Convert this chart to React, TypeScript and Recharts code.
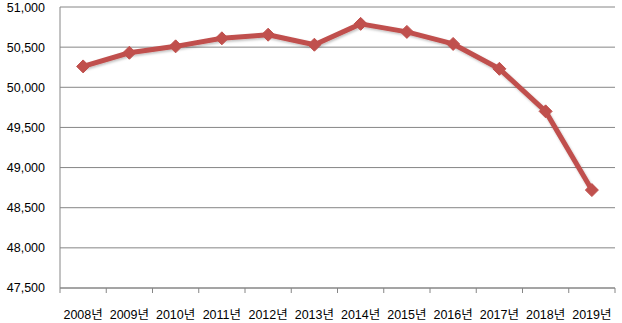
import { ComposedChart, Line, XAxis, YAxis, CartesianGrid } from 'recharts';

const years = ['2008년', '2009년', '2010년', '2011년', '2012년', '2013년', '2014년', '2015년', '2016년', '2017년', '2018년', '2019년'];
const values = [50260, 50430, 50510, 50610, 50655, 50530, 50790, 50690, 50540, 50230, 49700, 48720];
const yTicks = [47500, 48000, 48500, 49000, 49500, 50000, 50500, 51000];

const data = years.map((year, i) => ({ year, value: values[i] }));

const FONT = '"Liberation Sans", Arial, "Noto Sans CJK KR", sans-serif';
const RED = '#C0504D';
const GRID = '#868686';
const TICK_SIZE = 5;
const TICK_MARGIN = 17;

// diamond marker like the Excel one
function Diamond(props: any) {
    const { cx, cy } = props;
    if (cx == null || cy == null) return null;
    const r = 6.5;
    return (
        <polygon
            key={`d-${props.index}`}
            points={`${cx},${cy - r} ${cx + r},${cy} ${cx},${cy + r} ${cx - r},${cy}`}
            fill={RED}
            stroke={RED}
            strokeWidth={1}
        />
    );
}

// label plus tick marks between categories (Excel style)
function YearTick(props: any) {
    const { x, y, payload, index, visibleTicksCount } = props;
    const half = payload && payload.offset ? payload.offset : 23;
    const axisY = y - TICK_SIZE - TICK_MARGIN;
    const isLast = index === (visibleTicksCount ?? years.length) - 1;
    return (
        <g>
            <line x1={x - half} x2={x - half} y1={axisY} y2={axisY + TICK_SIZE} stroke={GRID} />
            {isLast && <line x1={x + half} x2={x + half} y1={axisY} y2={axisY + TICK_SIZE} stroke={GRID} />}
            <text x={x} y={y} dy="0.71em" textAnchor="middle" fill="#000" fontSize={12.5} fontFamily={FONT}>
                {payload.value}
            </text>
        </g>
    );
}

export default function App() {
    return (
        <div style={{ position: 'absolute', left: 0, top: 0, width: 622, height: 323, background: '#fff' }}>
            <ComposedChart
                width={622}
                height={323}
                data={data}
                margin={{ top: 7, right: 7, bottom: 0, left: 0 }}
                style={{ overflow: 'visible' }}
            >
                <defs>
                    <filter id="shadow" x="-10%" y="-10%" width="130%" height="130%">
                        <feDropShadow dx="1" dy="1.5" stdDeviation="1" floodColor="#000" floodOpacity="0.25" />
                    </filter>
                </defs>
                <CartesianGrid horizontal vertical={false} stroke={GRID} strokeWidth={1} />
                <XAxis
                    dataKey="year"
                    scale="band"
                    tickLine={false}
                    axisLine={{ stroke: GRID }}
                    tickSize={TICK_SIZE}
                    tickMargin={TICK_MARGIN}
                    height={35}
                    interval={0}
                    tick={<YearTick />}
                />
                <YAxis
                    domain={[47500, 51000]}
                    ticks={yTicks}
                    width={60}
                    tickLine={false}
                    axisLine={{ stroke: GRID }}
                    tickSize={0}
                    tickMargin={15}
                    tickFormatter={(v: number) => v.toLocaleString('en-US')}
                    tick={{ fill: '#000', fontSize: 12.5, fontFamily: FONT }}
                />
                <Line
                    dataKey="value"
                    stroke={RED}
                    strokeWidth={5}
                    strokeLinejoin="round"
                    dot={<Diamond />}
                    activeDot={false}
                    isAnimationActive={false}
                    style={{ filter: 'url(#shadow)' }}
                />
            </ComposedChart>
        </div>
    );
}
